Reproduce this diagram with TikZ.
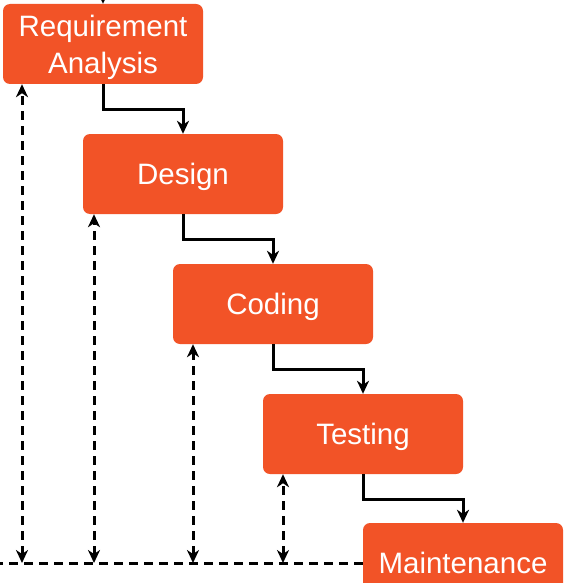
\documentclass[tikz,border=0pt]{standalone}
\usepackage{fontspec}
\setmainfont{Liberation Sans}
\usetikzlibrary{arrows.meta}
\definecolor{boxor}{HTML}{F25327}
\begin{document}
\begin{tikzpicture}[x=1pt,y=-1pt,
  phasefont/.style={text=white, font=\fontsize{29.5}{37}\selectfont, align=center, inner sep=0pt},
  phase/.style={phasefont, fill=boxor, rounded corners=7pt, minimum width=200pt, minimum height=80pt, text depth=0pt},
  tip/.tip={Stealth[length=13pt,width=12pt,inset=4pt]},
  flow/.style={line width=3pt, -tip},
  back/.style={line width=3pt, dash pattern=on 9pt off 6pt, tip-tip},
  backline/.style={line width=3pt, dash pattern=on 9pt off 6pt}]
\useasboundingbox (0,0) rectangle (564,583);
\clip (0,0) rectangle (564,583);
\node[phase] (req) at (103,44) {};
\node[phasefont] (reqt) at (103,47) {Requirement\\Analysis};
\node[phase] (des) at (183,174) {Design};
\node[phase] (cod) at (273,304) {Coding};
\node[phase] (tes) at (363,434) {Testing};
\node[phase] (mai) at (463,563) {Maintenance};
\coordinate (top) at (103,-30);
\draw[flow] (top) -- (req.north);
\draw[flow] (req.south) -- ++(0,25) -| (des.north);
\draw[flow] (des.south) -- ++(0,25) -| (cod.north);
\draw[flow] (cod.south) -- ++(0,25) -| (tes.north);
\draw[flow] (tes.south) -- ++(0,25) -| (mai.north);
\coordinate (left) at (-10,563);
\draw[backline] (mai.west) -- (left);
\coordinate (b1) at (22,563);
\coordinate (b2) at (94,563);
\coordinate (b3) at (193,563);
\coordinate (b4) at (283,563);
\draw[back] (b1) -- (b1 |- req.south);
\draw[back] (b2) -- (b2 |- des.south);
\draw[back] (b3) -- (b3 |- cod.south);
\draw[back] (b4) -- (b4 |- tes.south);
\end{tikzpicture}
\end{document}
